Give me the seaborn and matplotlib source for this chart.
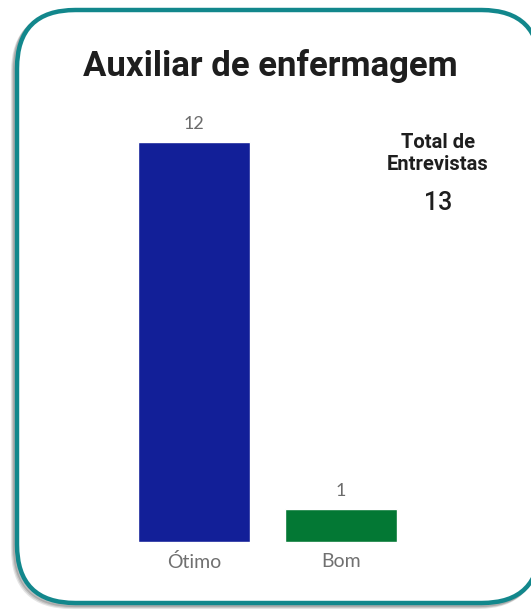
import matplotlib
matplotlib.use("Agg")
import matplotlib.pyplot as plt
import seaborn as sns
import pandas as pd
from matplotlib.patches import FancyBboxPatch

categories = ["Ótimo", "Bom"]
values = [12, 1]
bar_colors = ["#121f98", "#037834"]
title = "Auxiliar de enfermagem"
card_label = "Total de\nEntrevistas"
card_value = "13"

sns.set_theme(style="white")
plt.rcParams['font.family'] = ['Roboto', 'DejaVu Sans']

W, H = 531, 611
fig = plt.figure(figsize=(W / 100, H / 100), dpi=100)
fig.patch.set_facecolor("white")

def px(x, y):
    return x / W, 1 - y / H

# rounded border with soft shadow
R = 0.11
for off, a in [(4, 0.10), (3, 0.12), (2, 0.15)]:
    sh = FancyBboxPatch((17 / W - off / W, 1 - 603 / H - off / H), (540 - 17) / W, (603 - 10) / H,
                        boxstyle=f"round,pad=0,rounding_size={R}", transform=fig.transFigure,
                        facecolor="none", edgecolor=(0, 0, 0, a), linewidth=3, mutation_aspect=W / H,
                        zorder=-3)
    fig.patches.append(sh)
border = FancyBboxPatch((17 / W, 1 - 603 / H), (540 - 17) / W, (603 - 10) / H,
                        boxstyle=f"round,pad=0,rounding_size={R}", transform=fig.transFigure,
                        facecolor="white", edgecolor="#12878c", linewidth=3.2, mutation_aspect=W / H,
                        zorder=-2)
fig.patches.append(border)

# axes: x from 120.5 to 414.5, y from 100 to 542
ax = fig.add_axes([120.5 / W, 1 - 542 / H, (414.5 - 120.5) / W, (542 - 100) / H])
ax.set_zorder(2)
ax.set_facecolor("none")
df = pd.DataFrame({"cat": categories, "val": values})
sns.barplot(data=df, x="cat", y="val", hue="cat", palette=bar_colors, width=0.76,
            legend=False, ax=ax, saturation=1)
ax.set_xlim(-0.5, 1.5)
ax.set_ylim(0, 12 * 442 / 400)
for i, v in enumerate(values):
    ax.text(i, v + 0.3, str(v), ha="center", va="bottom", fontsize=13, color="#6b6b6b",
            family=["Lato", "DejaVu Sans"])
for s in ax.spines.values():
    s.set_visible(False)
ax.set_yticks([])
ax.set_xlabel("")
ax.set_ylabel("")
ax.tick_params(axis="x", length=0, labelsize=14, labelcolor="#707070", pad=8)
for t in ax.get_xticklabels():
    t.set_family(["Lato", "DejaVu Sans"])

fig.text(*px(270, 66), title, ha="center", va="center", fontsize=25, fontweight="bold", color="#1e1e1e")
fig.text(*px(438, 154), card_label, ha="center", va="center", fontsize=14.5, fontweight="bold",
         color="#1e1e1e", linespacing=1.2)
fig.text(*px(438, 203), card_value, ha="center", va="center", fontsize=18, fontweight="medium",
         color="#1e1e1e")

fig.savefig("out.png", dpi=100, facecolor="white")
